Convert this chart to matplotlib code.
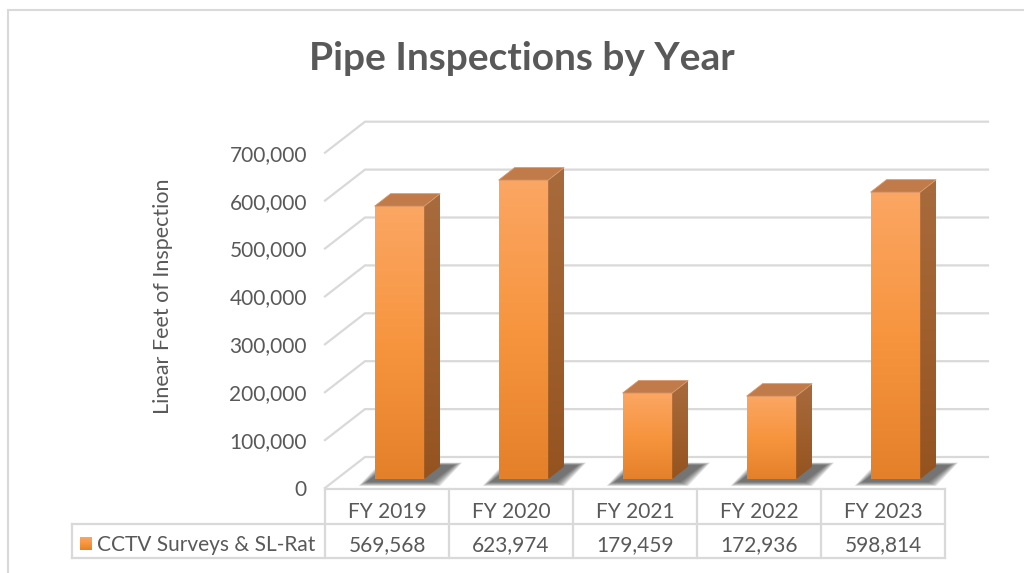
import numpy as np
import matplotlib.pyplot as plt
from matplotlib.patches import Polygon
from matplotlib.lines import Line2D
from matplotlib.colors import LinearSegmentedColormap

plt.rcParams['font.family'] = ['Lato', 'DejaVu Sans']

# data
years = ['FY 2019', 'FY 2020', 'FY 2021', 'FY 2022', 'FY 2023']
feet = [569568, 623974, 179459, 172936, 598814]
series_name = 'CCTV Surveys & SL-Rat'
yticks = list(range(0, 700001, 100000))

W, H = 1024, 573
TXT = '#595959'
GRID = '#D9D9D9'


def px(x, y, w, h):
    # pixel box (top-left origin) -> figure fraction
    return [x / W, 1 - (y + h) / H, w / W, h / H]


fig = plt.figure(figsize=(W / 100, H / 100), dpi=100)

# outer chart border (only left/top visible)
fig.add_artist(Line2D([8 / W, 8 / W], [0, 1 - 10 / H], color=GRID, lw=1.5))
fig.add_artist(Line2D([8 / W, 1], [1 - 10 / H, 1 - 10 / H], color=GRID, lw=1.5))

# plot area
PPV = 47.9 / 100000      # pixels per value unit
CW = 124.0               # pixels per category
x0, x1, y0, ytop = 325, 988, 488, 122
ax = fig.add_axes(px(x0, ytop, x1 - x0, y0 - ytop))
xmax = (x1 - x0) / CW

DX, DV = 40 / CW, 31 / PPV          # back wall offset
BASE = 9 / PPV                      # bar front base above front floor edge
BDX, BDV = 16 / CW, 12.5 / PPV      # bar depth

for v in yticks:
    ax.plot([0, DX, xmax], [v, v + DV, v + DV], color=GRID, lw=1.6,
            clip_on=False, zorder=1, solid_joinstyle='miter')

cm_front = LinearSegmentedColormap.from_list('f', ['#E5802A', '#F7953F', '#FBA663'])
cm_side = LinearSegmentedColormap.from_list('s', ['#94531F', '#A0602E', '#A86B3D'])
grad = np.linspace(0, 1, 256).reshape(-1, 1)

for i, v in enumerate(feet):
    a, b = i + 0.40, i + 0.80
    # soft shadow on the floor (stacked layers for blur)
    for k in range(9):
        g = 8 - k
        sh = Polygon([(a - (8 + g) / CW, BASE - (3 + g * 0.5) / PPV),
                      (b + (8 + g) / CW, BASE - (3 + g * 0.5) / PPV),
                      (b + (30 + g) / CW, BASE + (14 + g * 0.3) / PPV),
                      (a + (14 - g) / CW, BASE + (14 + g * 0.3) / PPV)],
                     closed=True, fc='#2E2E2E', ec='none', alpha=0.11,
                     zorder=2, clip_on=False)
        ax.add_patch(sh)
    # front face
    ax.imshow(grad, cmap=cm_front, extent=[a, b, BASE, BASE + v], origin='lower',
              aspect='auto', zorder=4, interpolation='bilinear')
    # side face
    side = Polygon([(b, BASE), (b + BDX, BASE + BDV), (b + BDX, BASE + v + BDV), (b, BASE + v)],
                   closed=True, fc='none', ec='none', zorder=4)
    ax.add_patch(side)
    im = ax.imshow(grad, cmap=cm_side, extent=[b, b + BDX, BASE, BASE + v + BDV],
                   origin='lower', aspect='auto', zorder=4, interpolation='bilinear')
    im.set_clip_path(side)
    # top face
    ax.add_patch(Polygon([(a, BASE + v), (b, BASE + v), (b + BDX, BASE + v + BDV),
                          (a + BDX, BASE + v + BDV)], closed=True,
                         fc='#C17A49', ec='#D7986A', lw=0.6, zorder=5))

ax.set_xlim(0, xmax)
ax.set_ylim(0, (y0 - ytop) / PPV)
ax.set_xticks([])
ax.set_yticks(yticks)
ax.set_yticklabels([f'{v:,}' for v in yticks], fontsize=15, color=TXT)
ax.tick_params(axis='y', length=0, pad=13)
for s in ax.spines.values():
    s.set_visible(False)
ax.patch.set_alpha(0)

fig.text(163 / W, 1 - 296 / H, 'Linear Feet of Inspection', rotation=90,
         ha='center', va='center', fontsize=15.5, color=TXT)

fig.text(522 / W, 1 - 58 / H, 'Pipe Inspections by Year', ha='center', va='center',
         fontsize=28, fontweight='bold', color=TXT)

# data table
tx0 = 72
axt = fig.add_axes(px(tx0, 489, 945 - tx0, 69))
left = -(x0 - tx0) / CW
lk = dict(color=GRID, lw=1.6, clip_on=False, solid_capstyle='projecting')
axt.plot([0, 5], [2, 2], **lk)
axt.plot([left, 5], [1, 1], **lk)
axt.plot([left, 5], [0, 0], **lk)
for j in range(6):
    axt.plot([j, j], [0, 2], **lk)
axt.plot([left, left], [0, 1], **lk)
for i, (yr, v) in enumerate(zip(years, feet)):
    axt.text(i + 0.5, 1.33, yr, ha='center', va='center', fontsize=15, color=TXT)
    axt.text(i + 0.5, 0.38, f'{v:,}', ha='center', va='center', fontsize=15, color=TXT)
# legend key
kx = left + 8 / CW
axt.imshow(grad, cmap=cm_front, extent=[kx, kx + 12 / CW, 0.42 - 6 / 34, 0.42 + 6 / 34],
           origin='lower', aspect='auto', interpolation='bilinear')
axt.text(kx + 17 / CW, 0.38, series_name, ha='left', va='center', fontsize=15, color=TXT)
axt.set_xlim(left, 5)
axt.set_ylim(0, 2)
axt.axis('off')

fig.savefig('out.png', dpi=100, facecolor='white')
